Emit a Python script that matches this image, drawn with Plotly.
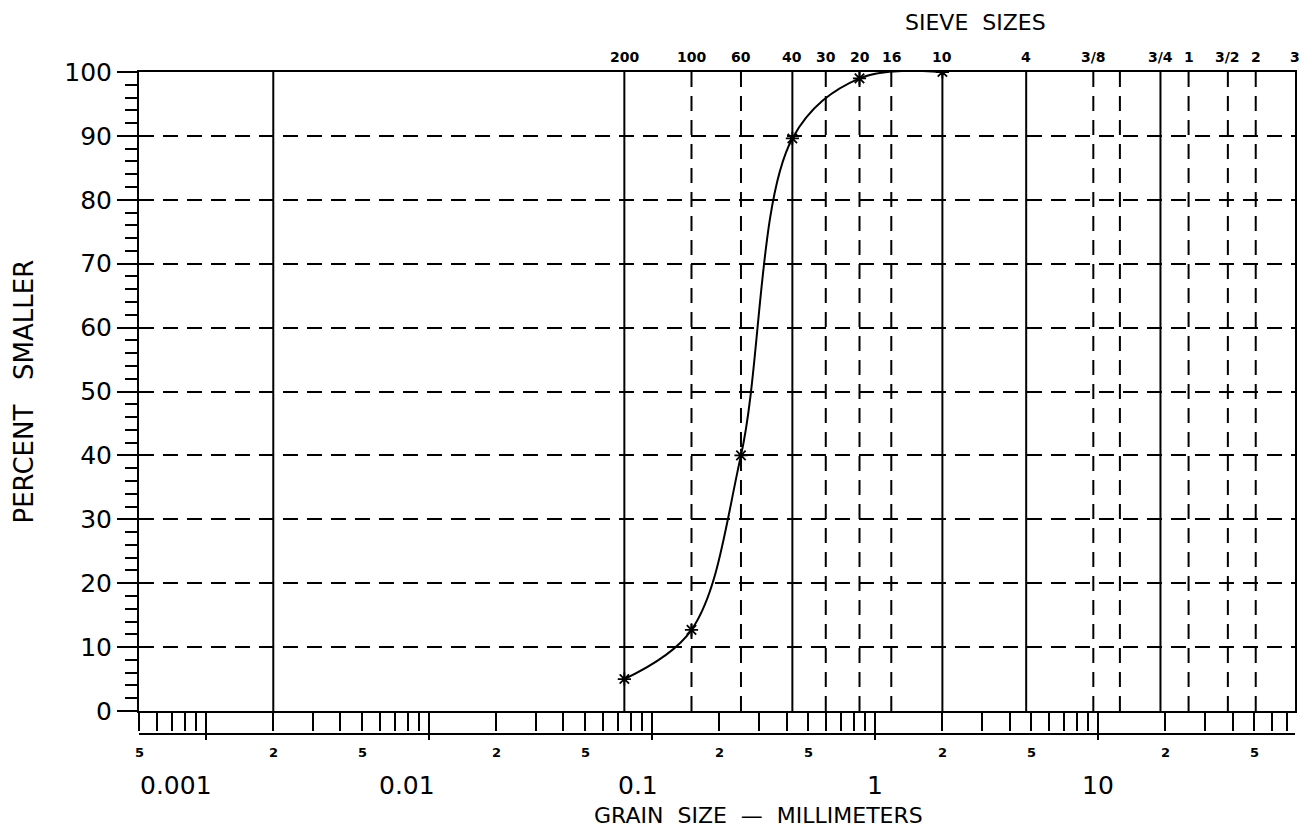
import numpy as np
import plotly.graph_objects as go

# ---------------- data ----------------
grain_mm = [0.075, 0.15, 0.25, 0.425, 0.85, 2.0]
percent_smaller = [5.0, 12.7, 40.0, 89.6, 99.0, 100.0]

sieve_labels = ["200", "100", "60", "40", "30", "20", "16", "10", "4",
                "3/8", "3/4", "1", "3/2", "2", "3"]
sieve_mm = [0.075, 0.15, 0.25, 0.425, 0.6, 0.85, 1.18, 2.0, 4.75,
            9.5, 19.0, 25.4, 38.1, 50.8, 76.2]

solid_lines_mm = [0.002, 0.075, 0.425, 2.0, 4.75, 19.0]
dashed_lines_mm = [0.15, 0.25, 0.6, 0.85, 1.18, 9.5, 12.5, 25.4, 38.1, 50.8]

x_min, x_max = 0.0005, 76.2
decades = [0.001, 0.01, 0.1, 1, 10]
decade_labels = ["0.001", "0.01", "0.1", "1", "10"]
sub_vals = [0.0005, 0.002, 0.005, 0.02, 0.05, 0.2, 0.5, 2, 5, 20, 50]
sub_labels = ["5", "2", "5", "2", "5", "2", "5", "2", "5", "2", "5"]
y_ticks = list(range(0, 101, 10))

FONT = "DejaVu Sans"

fig = go.Figure()

# vertical sieve / boundary lines
for v in solid_lines_mm:
    fig.add_trace(go.Scatter(x=[v, v], y=[0, 100], mode="lines",
                             line=dict(color="black", width=2),
                             hoverinfo="skip", showlegend=False))
for v in dashed_lines_mm:
    fig.add_trace(go.Scatter(x=[v, v], y=[0, 100], mode="lines",
                             line=dict(color="black", width=2, dash="15px,9px"),
                             hoverinfo="skip", showlegend=False))

# gradation curve
fig.add_trace(go.Scatter(x=grain_mm, y=percent_smaller, mode="lines+markers",
                         line=dict(color="black", width=2, shape="spline", smoothing=1.0),
                         marker=dict(symbol="asterisk-open", size=11,
                                     line=dict(color="black", width=1.8)),
                         showlegend=False))

# minor ticks for the log axis: every 2..9 multiple
minor_vals = []
for e in range(-4, 2):
    for m in range(2, 10):
        v = m * 10.0 ** e
        if x_min <= v <= x_max and not any(abs(v - d) < 1e-12 for d in decades):
            minor_vals.append(v)

fig.update_xaxes(type="log", range=[np.log10(x_min), np.log10(x_max)],
                 showgrid=False, zeroline=False,
                 showline=True, linecolor="black", linewidth=2, mirror=True,
                 ticks="outside", tickvals=decades, ticklen=27, tickwidth=2,
                 tickcolor="black", showticklabels=False,
                 minor=dict(tickvals=minor_vals, ticks="outside", ticklen=18,
                            tickwidth=1.5, tickcolor="black", showgrid=False))

fig.update_yaxes(range=[0, 100], tickvals=y_ticks,
                 showgrid=True, gridcolor="black", gridwidth=2, griddash="15px,9px",
                 zeroline=False,
                 showline=True, linecolor="black", linewidth=2, mirror=True,
                 ticks="outside", ticklen=20, tickwidth=2, tickcolor="black",
                 tickfont=dict(family=FONT, size=25, color="black"),
                 minor=dict(dtick=2, ticks="outside", ticklen=12, tickwidth=1.5,
                            tickcolor="black", showgrid=False))

ann = []
# sieve labels along the top
for lab, v in zip(sieve_labels, sieve_mm):
    ann.append(dict(x=np.log10(v), xref="x", y=1, yref="paper", yshift=15,
                    text=lab, showarrow=False, yanchor="middle", xanchor="center",
                    font=dict(family=FONT, size=14, color="black", weight="bold")))
ann.append(dict(x=np.log10(2.0) + 0.15, xref="x", y=1, yref="paper", yshift=50,
                text="SIEVE&nbsp;&nbsp;SIZES", showarrow=False, yanchor="middle",
                font=dict(family=FONT, size=22, color="black")))
# small 2/5 labels under the tick strip
for lab, v in zip(sub_labels, sub_vals):
    ann.append(dict(x=np.log10(v), xref="x", y=0, yref="paper", yshift=-41,
                    text=lab, showarrow=False, yanchor="middle", xanchor="center",
                    font=dict(family=FONT, size=13, color="black", weight="bold")))
# decade labels
for lab, v in zip(decade_labels, decades):
    ann.append(dict(x=np.log10(v), xref="x", y=0, yref="paper", yshift=-74,
                    text=lab, showarrow=False, yanchor="middle",
                    xanchor="right" if v < 1 else "center",
                    xshift=8 if v < 1 else 0,
                    font=dict(family=FONT, size=25, color="black")))
ann.append(dict(x=np.log10(0.3), xref="x", y=0, yref="paper", yshift=-104,
                text="GRAIN&nbsp;&nbsp;SIZE&nbsp;&nbsp;—&nbsp;&nbsp;MILLIMETERS",
                showarrow=False, yanchor="middle", xanchor="center",
                font=dict(family=FONT, size=22, color="black")))
ann.append(dict(x=0, xref="paper", xshift=-116, y=0.5, yref="paper",
                text="PERCENT&nbsp;&nbsp;&nbsp;SMALLER", textangle=-90, showarrow=False,
                xanchor="center", yanchor="middle",
                font=dict(family=FONT, size=26, color="black")))

fig.update_layout(
    width=1309, height=830,
    margin=dict(l=139, r=12, t=72, b=119),
    paper_bgcolor="white", plot_bgcolor="white",
    annotations=ann,
)

# lower line of the bottom tick strip
fig.add_shape(type="line", xref="paper", yref="paper", x0=0, x1=1,
              y0=-23 / 639, y1=-23 / 639, line=dict(color="black", width=2))

fig.write_html("out.html")
